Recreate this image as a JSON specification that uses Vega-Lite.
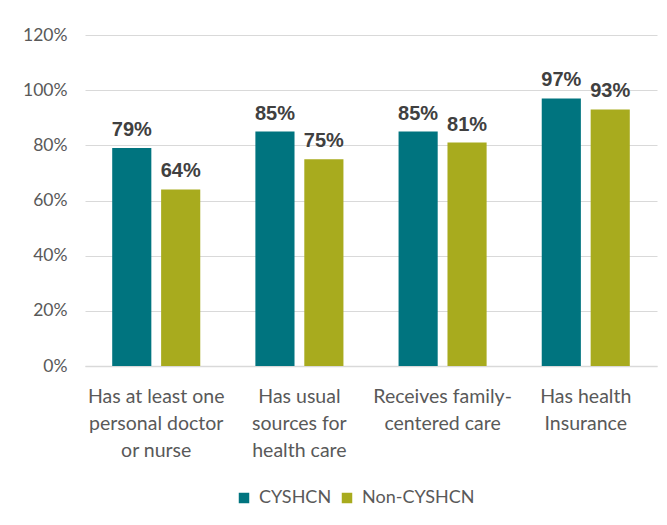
{
  "$schema": "https://vega.github.io/schema/vega-lite/v6.json",
  "width": 572,
  "height": 331,
  "autosize": {"type": "none"},
  "padding": {"left": 85, "top": 35, "right": 10, "bottom": 159},
  "background": "white",
  "data": {"values": [
    {"measure": "Has at least one|personal doctor|or nurse", "group": "CYSHCN", "value": 0.79},
    {"measure": "Has at least one|personal doctor|or nurse", "group": "Non-CYSHCN", "value": 0.64},
    {"measure": "Has usual|sources for|health care", "group": "CYSHCN", "value": 0.85},
    {"measure": "Has usual|sources for|health care", "group": "Non-CYSHCN", "value": 0.75},
    {"measure": "Receives family-|centered care", "group": "CYSHCN", "value": 0.85},
    {"measure": "Receives family-|centered care", "group": "Non-CYSHCN", "value": 0.81},
    {"measure": "Has health|Insurance", "group": "CYSHCN", "value": 0.97},
    {"measure": "Has health|Insurance", "group": "Non-CYSHCN", "value": 0.93}
  ]},
  "encoding": {
    "x": {"field": "measure", "type": "nominal", "sort": null,
      "scale": {"paddingInner": 0.385, "paddingOuter": 0.19},
      "axis": {"title": null, "labelAngle": 0, "labelExpr": "split(datum.label, '|')",
        "labelFont": "Lato", "labelFontSize": 19.5, "labelColor": "#595959", "labelLineHeight": 27,
        "labelPadding": 21, "ticks": false, "domainColor": "#d9d9d9", "domainWidth": 1.5, "labelBaseline": "top"}},
    "xOffset": {"field": "group", "type": "nominal", "scale": {"paddingInner": 0.2}},
    "y": {"field": "value", "type": "quantitative",
      "scale": {"domain": [0, 1.2], "nice": false},
      "axis": {"title": null, "format": ".0%", "values": [0, 0.2, 0.4, 0.6, 0.8, 1.0, 1.2],
        "labelFont": "Lato", "labelFontSize": 17.5, "labelColor": "#595959", "labelPadding": 18,
        "ticks": false, "domain": false, "gridColor": "#d9d9d9", "gridWidth": 1.2}}
  },
  "layer": [
    {"mark": {"type": "bar"},
      "encoding": {"color": {"field": "group", "type": "nominal",
        "scale": {"domain": ["CYSHCN", "Non-CYSHCN"], "range": ["#00747f", "#a8ab1e"]},
        "legend": {"title": null, "orient": "none", "direction": "horizontal", "legendX": 150, "legendY": 454,
          "symbolType": "square", "symbolSize": 110, "labelFont": "Lato", "labelFontSize": 18,
          "labelColor": "#595959", "columnPadding": 6, "labelOffset": 6, "symbolStrokeWidth": 0}}}},
    {"mark": {"type": "text", "baseline": "alphabetic", "dy": -12, "font": "Liberation Sans", "fontWeight": "bold", "fontSize": 20, "color": "#404040"},
      "encoding": {"text": {"field": "value", "type": "quantitative", "format": ".0%"}}}
  ],
  "config": {"view": {"stroke": null}}
}
